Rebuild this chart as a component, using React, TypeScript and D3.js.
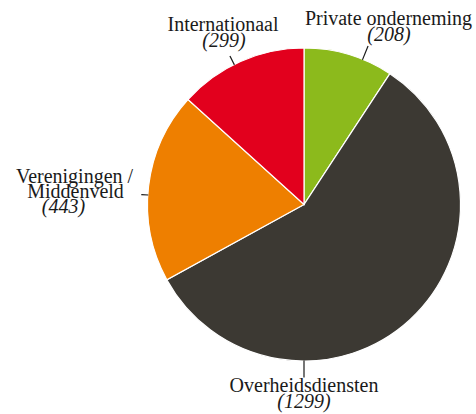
import React from "react";
import * as d3 from "d3";

const categories = ["Private onderneming", "Overheidsdiensten", "Verenigingen / Middenveld", "Internationaal"];
const values = [208, 1299, 443, 299];
const colors = ["#8cba1c", "#3c3933", "#ee7f00", "#e2001d"];

// label layout (text lines, anchor positions, leader line angle)
const labelLines = [
  ["Private onderneming"],
  ["Overheidsdiensten"],
  ["Verenigingen /", "Middenveld"],
  ["Internationaal"],
];
const labelLayout = [
  { xs: [388.5, 389], ys: [25, 40.5], lineAngle: 22, r0: 156, r1: 171 },
  { xs: [304, 304], ys: [392, 408], lineAngle: 180, r0: 156, r1: 173 },
  { xs: [74.5, 75.5, 63.5], ys: [182.5, 197.5, 212.5], lineAngle: 273.5, r0: 156, r1: 163 },
  { xs: [223, 224], ys: [31, 47], lineAngle: 333.5, r0: 156, r1: 166 },
];

const W = 476;
const H = 414;
const cx = 304;
const cy = 204.5;
const R = 156.5;

export default function App() {
  const pie = d3.pie<number>().sort(null).value((d) => d)(values);
  const arc = d3.arc<d3.PieArcDatum<number>>().innerRadius(0).outerRadius(R);
  const font = "'Liberation Serif', 'Times New Roman', serif";
  return (
    <svg
      width={W}
      height={H}
      style={{ position: "absolute", left: 0, top: 0, background: "#fff" }}
    >
      <g transform={`translate(${cx},${cy})`}>
        {pie.map((p, i) => (
          <path key={i} d={arc(p) || ""} fill={colors[i]} stroke="#fff" strokeWidth={1.2}>
            <title>{categories[i]}</title>
          </path>
        ))}
      </g>
      {labelLayout.map((l, i) => {
        const a = (l.lineAngle * Math.PI) / 180;
        const x0 = cx + l.r0 * Math.sin(a);
        const y0 = cy - l.r0 * Math.cos(a);
        const x1 = cx + l.r1 * Math.sin(a);
        const y1 = cy - l.r1 * Math.cos(a);
        const lines = labelLines[i];
        return (
          <g key={i}>
            <line x1={x0} y1={y0} x2={x1} y2={y1} stroke="#1a1a1a" strokeWidth={1.2} />
            {lines.map((t, j) => (
              <text
                key={j}
                x={l.xs[j]}
                y={l.ys[j]}
                textAnchor="middle"
                fontFamily={font}
                fontSize={20}
                fill="#1a1a1a"
              >
                {t}
              </text>
            ))}
            <text
              x={l.xs[lines.length]}
              y={l.ys[lines.length]}
              textAnchor="middle"
              fontFamily={font}
              fontSize={20}
              fontStyle="italic"
              fill="#1a1a1a"
            >
              {`(${values[i]})`}
            </text>
          </g>
        );
      })}
    </svg>
  );
}
